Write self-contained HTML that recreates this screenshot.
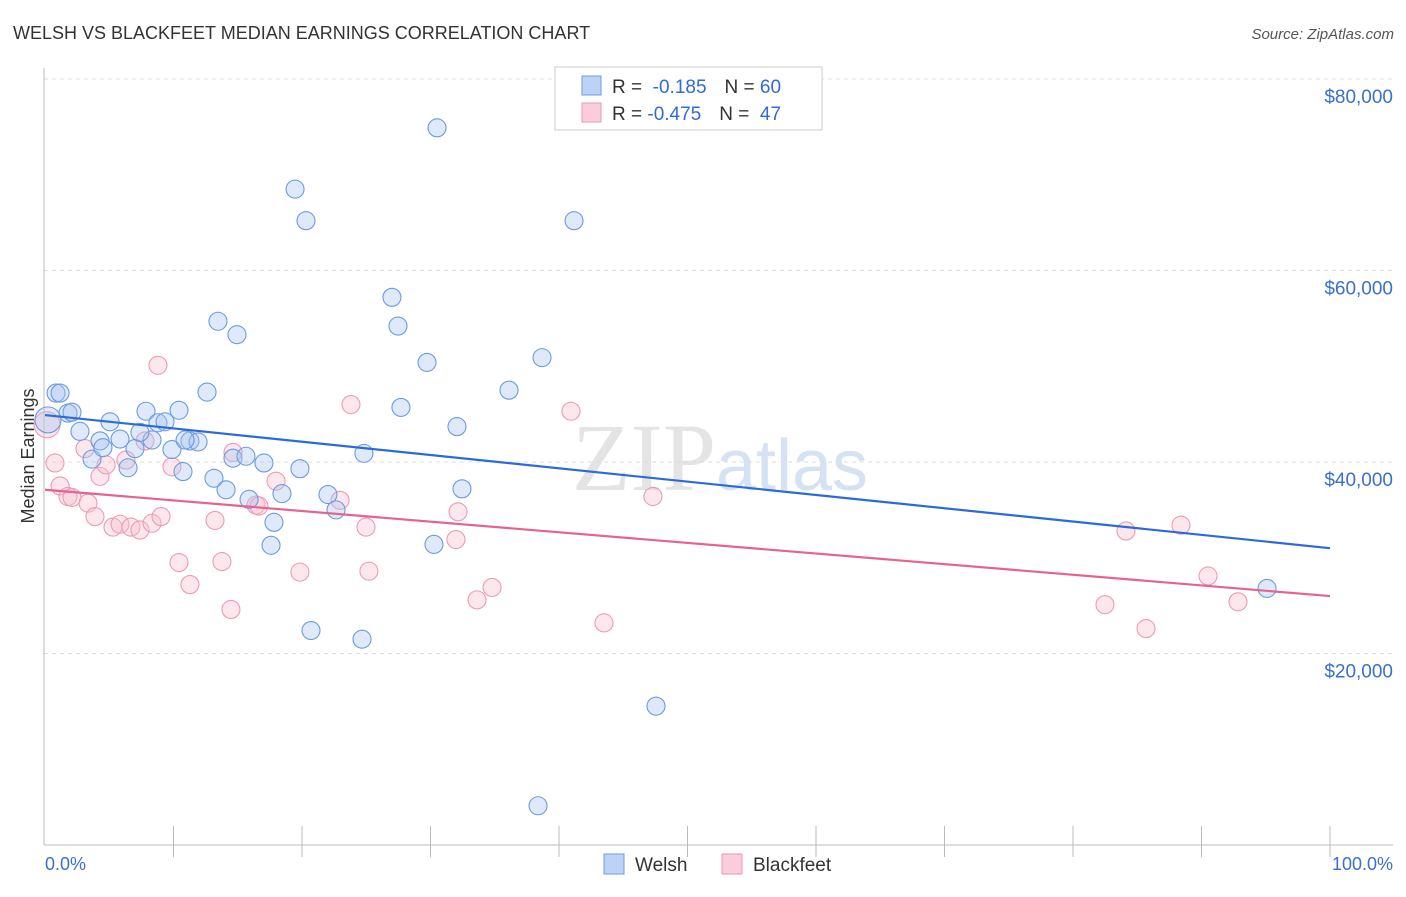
<!DOCTYPE html>
<html><head><meta charset="utf-8"><style>
body{margin:0;background:#fff;font-family:"Liberation Sans",sans-serif}
</style></head><body>
<svg id="chart" width="1406" height="892" xmlns="http://www.w3.org/2000/svg" font-family="Liberation Sans, sans-serif">
<text x="13" y="39" font-size="18" fill="#333">WELSH VS BLACKFEET MEDIAN EARNINGS CORRELATION CHART</text>
<text x="1394" y="39" font-size="15" fill="#555" font-style="italic" text-anchor="end">Source: ZipAtlas.com</text>
<text x="720" y="490" font-size="96" fill="#e4e4e4" text-anchor="middle" font-family="Liberation Serif, serif">ZIP<tspan fill="#d5e2f3" font-family="Liberation Sans, sans-serif" font-size="72">atlas</tspan></text>
<g id="grid"></g>
<line x1="44" y1="68" x2="44" y2="845" stroke="#bbb"/>
<line x1="44" y1="845" x2="1393" y2="845" stroke="#bbb"/>
<g id="xticks"></g>
<text transform="translate(34,456) rotate(-90)" font-size="18" fill="#333" text-anchor="middle">Median Earnings</text>
<text x="45" y="870" font-size="18" fill="#3a6fd0">0.0%</text>
<text x="1393" y="870" font-size="18" fill="#3a6fd0" text-anchor="end">100.0%</text>
<g id="marks"></g>
<g>
<rect x="555" y="67" width="267" height="63" fill="#fff" stroke="#ccc"/>
<rect x="582" y="76" width="19" height="19" fill="#bcd3f5" stroke="#6f9be0"/>
<rect x="582" y="103" width="19" height="19" fill="#fbcddb" stroke="#ec94b0"/>
<text x="612" y="93" font-size="19" fill="#333">R = <tspan fill="#2f6bd8">&#160;-0.185</tspan><tspan dx="18">N = </tspan><tspan fill="#2f6bd8">60</tspan></text>
<text x="612" y="120" font-size="19" fill="#333">R = <tspan fill="#2f6bd8">-0.475</tspan><tspan dx="18">N = </tspan><tspan fill="#2f6bd8">&#160;47</tspan></text>
</g>
<g>
<rect x="604" y="854" width="20" height="20" fill="#bcd3f5" stroke="#6f9be0"/>
<text x="635" y="871" font-size="19" fill="#333">Welsh</text>
<rect x="722" y="854" width="20" height="20" fill="#fbcddb" stroke="#ec94b0"/>
<text x="753" y="871" font-size="19" fill="#333">Blackfeet</text>
</g>
</svg>
<script>
const yTicks=[20000,40000,60000,80000];
const yTickLabels=["$20,000","$40,000","$60,000","$80,000"];
const welshX=[0.86,1.17,1.79,2.1,2.72,5.06,3.66,4.28,4.51,5.84,6.46,7.86,8.33,7.0,7.39,8.79,9.34,10.43,9.88,10.74,11.28,11.91,12.61,13.15,13.46,14.09,14.63,14.94,15.64,15.88,17.04,17.59,17.82,18.44,19.46,19.84,20.31,20.7,22.02,22.65,24.67,24.82,27.0,27.47,27.7,29.73,30.27,30.51,32.06,32.45,36.11,38.37,38.68,41.17,47.55,95.1,0.23,10.9];
const welshY=[47.2,47.2,45.1,45.2,43.2,44.2,40.3,42.2,41.5,42.4,39.4,45.3,42.3,41.4,43.1,44.1,44.2,45.4,41.3,39.0,42.2,42.1,47.3,38.3,54.7,37.1,40.4,53.3,40.6,36.1,39.9,31.3,33.7,36.7,68.5,39.3,65.2,22.4,36.6,35.0,21.5,40.9,57.2,54.2,45.7,50.4,31.4,74.9,43.7,37.2,47.5,4.1,50.9,65.2,14.5,26.8,44.4,42.3];
const blackX=[0.16,0.78,1.17,1.79,2.1,3.11,3.35,3.89,4.28,4.75,5.29,5.84,6.3,6.69,7.39,7.78,8.33,8.79,9.03,9.88,10.43,11.28,13.23,13.77,14.47,14.63,16.42,16.65,17.98,19.84,22.96,23.81,24.98,25.21,32.14,31.98,33.62,34.79,40.93,43.5,47.31,82.49,84.12,85.68,88.4,90.51,92.84];
const blackY=[43.9,39.9,37.5,36.4,36.3,41.4,35.7,34.3,38.5,39.7,33.2,33.5,40.2,33.2,32.9,42.2,33.6,50.1,34.3,39.5,29.5,27.2,33.9,29.6,24.6,41.0,35.5,35.4,38.0,28.5,36.0,46.0,33.2,28.6,34.8,31.9,25.6,26.9,45.3,23.2,36.4,25.1,32.8,22.6,33.4,28.1,25.4];
const welshTrend=[44.9,31.0];
const blackTrend=[37.1,26.0];
const NS="http://www.w3.org/2000/svg";
const X=p=>45+p*12.85;
const Y=v=>845-v/20000*191.5;
function mk(t,a,parent){const e=document.createElementNS(NS,t);for(const k in a)e.setAttribute(k,a[k]);parent.appendChild(e);return e;}
const grid=document.getElementById('grid');
yTicks.forEach((v,i)=>{
 const l=mk('line',{x1:44,x2:1393,y1:Y(v),y2:Y(v),stroke:'#ddd','stroke-dasharray':'4,4'},grid);
 
 
 const t=mk('text',{x:1393,y:Y(v)+24,'font-size':19,fill:'#3a6fd0','text-anchor':'end'},grid);
 t.textContent=yTickLabels[i];
 
 
});
const xt=document.getElementById('xticks');
for(let i=1;i<=10;i++){
 const l=mk('line',{x1:X(i*10),x2:X(i*10),y1:826,y2:857,stroke:'#bbb'},xt);
 
 
}
const marks=document.getElementById('marks');
function dots(xs,ys,fill,stroke,name,bigIdx){
 xs.forEach((x,i)=>{
  const c=mk('circle',{cx:X(x),cy:Y(ys[i]*1000),r:i===bigIdx?13:9,fill:fill,'fill-opacity':0.38,stroke:stroke,'stroke-width':1.1},marks);
  
  
 });
}
dots(blackX,blackY,'#f8bfd0','#ee9ab5','blackfeet-point',0);
dots(welshX,welshY,'#a9c6f0','#6d9ae2','welsh-point',56);
const tw=mk('line',{x1:X(0),x2:X(100),y1:Y(welshTrend[0]*1000),y2:Y(welshTrend[1]*1000),stroke:'#2a6bd8','stroke-width':2.2},marks);


const tb=mk('line',{x1:X(0),x2:X(100),y1:Y(blackTrend[0]*1000),y2:Y(blackTrend[1]*1000),stroke:'#e5638f','stroke-width':2.2},marks);


</script>
</body></html>
